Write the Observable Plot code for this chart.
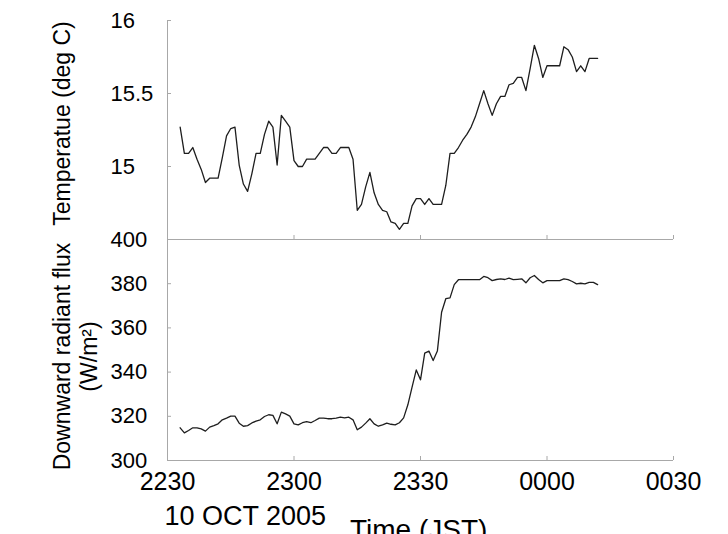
<!DOCTYPE html>
<html>
<head>
<meta charset="utf-8">
<script src="https://cdn.jsdelivr.net/npm/d3@7"></script>
<script src="https://cdn.jsdelivr.net/npm/@observablehq/plot@0.6"></script>
<style>
  html, body { margin: 0; padding: 0; background: #fff; }
  #chart { position: relative; width: 728px; height: 534px; overflow: hidden; }
  #chart svg { position: absolute; left: 0; background: transparent; overflow: visible; }
</style>
</head>
<body>
<div id="chart"></div>
<script>
// ---- data (1-minute samples, minutes after 22:30 JST, 10 OCT 2005) ----
const firstMinute = 3;
const temperature = [
  15.27, 15.09, 15.09, 15.13, 15.05, 14.98, 14.89, 14.92, 14.92, 14.92,
  15.06, 15.21, 15.26, 15.27, 15.01, 14.88, 14.83, 14.95, 15.09, 15.09,
  15.22, 15.31, 15.27, 15.01, 15.35, 15.31, 15.27, 15.04, 15.00, 15.00,
  15.05, 15.05, 15.05, 15.09, 15.13, 15.13, 15.09, 15.09, 15.13, 15.13,
  15.13, 15.05, 14.70, 14.74, 14.86, 14.96, 14.82, 14.74, 14.70, 14.69,
  14.62, 14.61, 14.57, 14.61, 14.61, 14.73, 14.78, 14.78, 14.74, 14.78,
  14.74, 14.74, 14.74, 14.87, 15.09, 15.09, 15.13, 15.18, 15.22, 15.27,
  15.34, 15.43, 15.52, 15.43, 15.35, 15.43, 15.48, 15.48, 15.56, 15.57,
  15.61, 15.61, 15.52, 15.67, 15.83, 15.74, 15.61, 15.69, 15.69, 15.69,
  15.69, 15.82, 15.80, 15.75, 15.65, 15.69, 15.65, 15.74, 15.74, 15.74
];
const radiantFlux = [
  314.8, 312.5, 313.6, 314.8, 314.8, 314.3, 313.3, 315.1, 315.8, 316.6,
  318.4, 319.2, 320.1, 320.1, 316.9, 315.5, 315.8, 317.0, 317.8, 318.4,
  319.9, 320.7, 320.4, 316.6, 321.9, 321.1, 320.1, 316.6, 316.1, 317.1,
  317.6, 317.1, 318.1, 319.2, 319.2, 318.9, 318.9, 319.2, 319.6, 319.3,
  319.6, 318.4, 313.9, 315.1, 316.9, 318.9, 316.6, 315.5, 316.1, 316.9,
  316.4, 316.1, 317.1, 319.3, 325.2, 333.2, 341.0, 336.5, 348.6, 349.5,
  345.2, 349.5, 367.1, 373.2, 373.6, 379.6, 381.8, 381.8, 381.8, 381.8,
  381.8, 381.8, 383.3, 382.7, 381.4, 381.9, 382.2, 381.9, 382.5, 381.8,
  382.0, 382.2, 380.4, 382.7, 383.7, 381.9, 380.4, 381.4, 381.4, 381.4,
  381.4, 382.2, 381.8, 381.0, 379.9, 380.2, 379.9, 380.6, 380.6, 379.6
];
const xTicks = [0, 30, 60, 90, 120];
const xTickLabels = ["2230", "2300", "2330", "0000", "0030"];
const tempTicks = [15, 15.5, 16];
const tempDomain = [14.5, 16];
const fluxTicks = [300, 320, 340, 360, 380, 400];
const fluxDomain = [300, 400];
const tempTitle = "Temperatue (deg C)";
const fluxTitle = "Downward radiant flux";
const fluxUnit = "(W/m\u00B2)";
const dateLabel = "10 OCT 2005";
const timeTitle = "Time (JST)";

const tempData = temperature.map((v, i) => ({t: firstMinute + i, v}));
const fluxData = radiantFlux.map((v, i) => ({t: firstMinute + i, v}));

const FONT = "'Liberation Sans', Arial, Helvetica, sans-serif";
const AXIS = "#a8a8a8";
const LINE = "#1e1e1e";
const W = 728, ML = 167, MR = 55;
const frameW = W - ML - MR;

const topPlot = Plot.plot({
  width: W, height: 240,
  marginTop: 20, marginBottom: 1, marginLeft: ML, marginRight: MR,
  style: {fontFamily: FONT, background: "transparent", color: "#000"},
  x: {domain: [0, 120], axis: null},
  y: {domain: tempDomain, axis: null},
  marks: [
    Plot.ruleX([0], {stroke: AXIS}),
    Plot.ruleY([tempDomain[0]], {stroke: AXIS}),
    Plot.tickY([tempDomain[0], ...tempTicks], {stroke: AXIS, insetRight: frameW - 4}),
    Plot.tickX(xTicks, {stroke: AXIS, insetTop: 219 - 4}),
    Plot.axisY(tempTicks, {tickSize: 0, tickPadding: 57, textAnchor: "start", fontSize: 22, label: null,
      tickFormat: d => String(d)}),
    Plot.line(tempData, {x: "t", y: "v", stroke: LINE, strokeWidth: 1.3}),
    Plot.text([tempTitle], {frameAnchor: "left", dx: 62.5 - ML, dy: -6.5, rotate: -90,
      textAnchor: "middle", lineAnchor: "middle", fontSize: 23, fill: "#000"})
  ]
});

const bottomPlot = Plot.plot({
  width: W, height: 314,
  marginTop: 19, marginBottom: 74, marginLeft: ML, marginRight: MR,
  style: {fontFamily: FONT, background: "transparent", color: "#000"},
  x: {domain: [0, 120], axis: null},
  y: {domain: fluxDomain, axis: null},
  marks: [
    Plot.ruleX([0], {stroke: AXIS}),
    Plot.ruleY([fluxDomain[0]], {stroke: AXIS}),
    Plot.tickY(fluxTicks, {stroke: AXIS, insetRight: frameW - 4}),
    Plot.tickX(xTicks, {stroke: AXIS, insetTop: 221 - 4}),
    Plot.axisY(fluxTicks, {tickSize: 0, tickPadding: 57, textAnchor: "start", fontSize: 22, label: null,
      tickFormat: d => String(d)}),
    Plot.axisX(xTicks, {tickSize: 0, tickPadding: 12, fontSize: 25, label: null,
      tickFormat: d => xTickLabels[xTicks.indexOf(d)]}),
    Plot.line(fluxData, {x: "t", y: "v", stroke: LINE, strokeWidth: 1.3}),
    Plot.text([fluxTitle], {frameAnchor: "left", dx: 62.5 - ML, dy: 6.5, rotate: -90,
      textAnchor: "middle", lineAnchor: "middle", fontSize: 23, fill: "#000"}),
    Plot.text([fluxUnit], {frameAnchor: "left", dx: 89.5 - ML, dy: 6.5, rotate: -90,
      textAnchor: "middle", lineAnchor: "middle", fontSize: 23, fill: "#000"}),
    Plot.text([dateLabel], {frameAnchor: "bottom-left", dx: -3, dy: 45, textAnchor: "start", lineAnchor: "top", fontSize: 27, fill: "#000"}),
    Plot.text([timeTitle], {frameAnchor: "bottom-left", dx: 182.5, dy: 59, textAnchor: "start", lineAnchor: "top", fontSize: 28, fill: "#000"})
  ]
});

const chart = document.getElementById("chart");
topPlot.style.top = "0px";
bottomPlot.style.top = "220px";
chart.appendChild(topPlot);
chart.appendChild(bottomPlot);
</script>
</body>
</html>
